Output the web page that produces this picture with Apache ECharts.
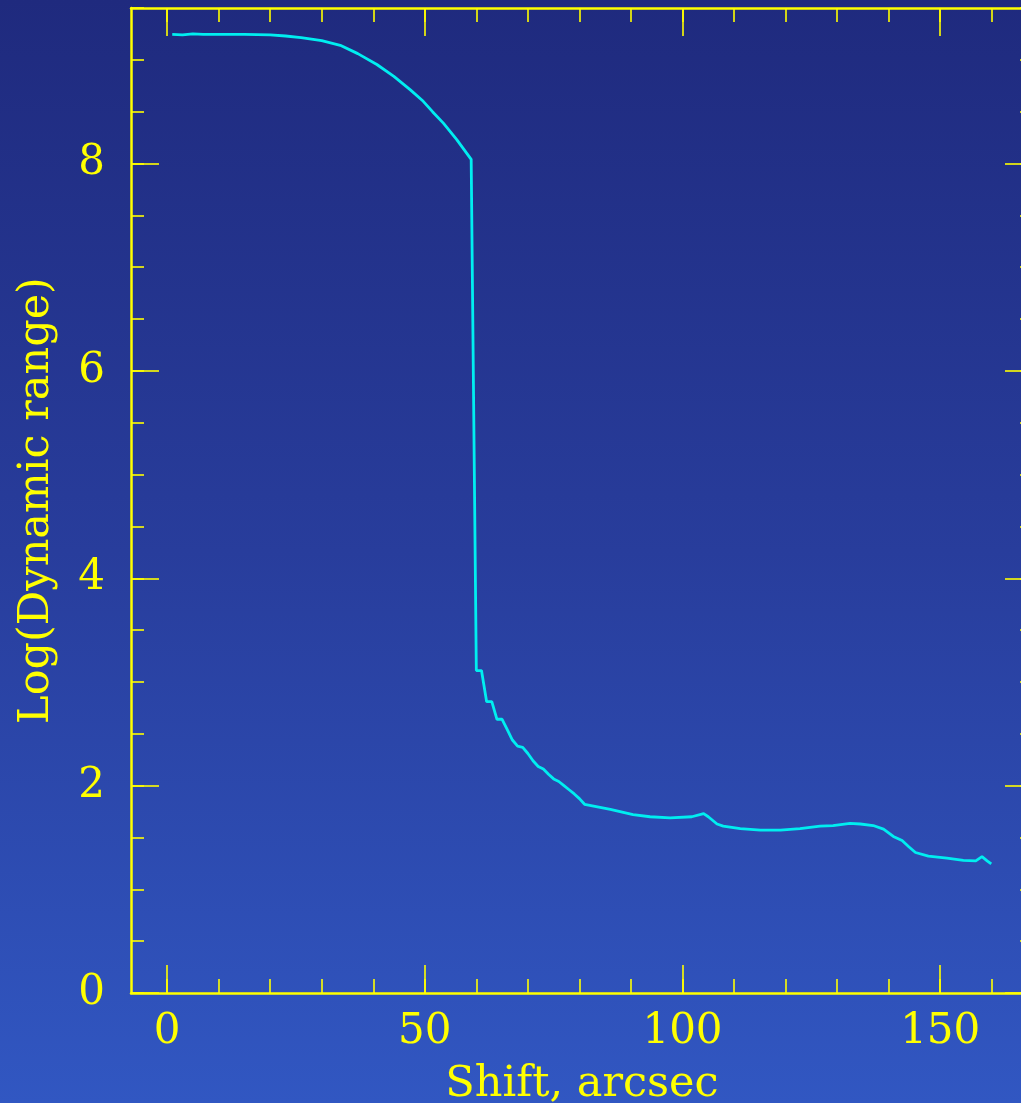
<!DOCTYPE html>
<html>
<head>
<meta charset="utf-8">
<script src="https://cdn.jsdelivr.net/npm/echarts@6/dist/echarts.min.js"></script>
<style>
  html, body { margin: 0; padding: 0; }
  #chart {
    width: 1021px;
    height: 1103px;
    background: linear-gradient(to bottom, #1f2a7e 0%, #283d9c 50%, #3157c2 100%);
  }
</style>
</head>
<body>
<div id="chart"></div>
<script>
// values
var shift = [1, 3, 5, 7, 10, 15, 20, 23, 26, 30, 33.6, 37, 40.7, 44, 47.2, 49.7, 51.5, 53.6, 56.2, 59,
  60, 61, 62, 63, 64, 65, 66, 67, 68, 69, 70, 71, 72, 73, 74, 75, 76, 77, 78, 79, 80, 81,
  86, 90.4, 93.7, 97.6, 101.8, 104.1, 105, 106.7, 107.9, 111.2, 115.1, 119, 122.8, 126.7, 129.2,
  132.5, 134.5, 137, 139, 140.9, 142.6, 143.9, 145.2, 147.7, 151.3, 154.5, 156.9, 158.1, 159.1, 159.9];
var logRange = [9.245, 9.24, 9.25, 9.245, 9.245, 9.245, 9.24, 9.23, 9.215, 9.185, 9.14, 9.06, 8.955, 8.84, 8.71, 8.60, 8.50, 8.39, 8.23, 8.04,
  3.11, 3.11, 2.81, 2.81, 2.64, 2.64, 2.54, 2.44, 2.38, 2.37, 2.31, 2.24, 2.185, 2.16, 2.11, 2.065, 2.04, 2.0, 1.96, 1.92, 1.875, 1.82,
  1.77, 1.72, 1.70, 1.69, 1.70, 1.73, 1.70, 1.63, 1.61, 1.585, 1.57, 1.57, 1.585, 1.61, 1.615,
  1.635, 1.63, 1.615, 1.58, 1.51, 1.47, 1.41, 1.355, 1.32, 1.30, 1.28, 1.275, 1.315, 1.275, 1.245];

var xMajor = [0, 50, 100, 150];
var xMinor = [0, 10, 20, 30, 40, 50, 60, 70, 80, 90, 100, 110, 120, 130, 140, 150, 160];
var yMajor = [0, 2, 4, 6, 8];
var yMinor = [0, 0.5, 1, 1.5, 2, 2.5, 3, 3.5, 4, 4.5, 5, 5.5, 6, 6.5, 7, 7.5, 8, 8.5, 9, 9.5];

var yellow = '#ffff00';
var font = 'DejaVu Serif';

function xAxis(pos, ticks, len, withLine, withLabels) {
  return {
    type: 'value', position: pos, min: -7, max: 168,
    axisLine: { show: withLine, onZero: false, lineStyle: { color: yellow, width: 2.5 } },
    axisTick: { show: true, inside: true, length: len, customValues: ticks,
      lineStyle: { color: yellow, width: 1.6 } },
    axisLabel: { show: withLabels, customValues: xMajor, color: yellow,
      fontFamily: font, fontSize: 42, margin: 39, verticalAlign: 'middle' },
    splitLine: { show: false },
    name: withLabels ? 'Shift, arcsec' : '',
    nameLocation: 'middle', nameGap: 92,
    nameTextStyle: { color: yellow, fontFamily: font, fontSize: 43, verticalAlign: 'middle' }
  };
}

function yAxis(pos, ticks, len, withLine, withLabels) {
  return {
    type: 'value', position: pos, min: 0, max: 9.5,
    axisLine: { show: withLine, onZero: false, lineStyle: { color: yellow, width: 2.5 } },
    axisTick: { show: true, inside: true, length: len, customValues: ticks,
      lineStyle: { color: yellow, width: 1.6 } },
    axisLabel: { show: withLabels, customValues: yMajor, color: yellow,
      fontFamily: font, fontSize: 42, margin: 26 },
    splitLine: { show: false },
    name: withLabels ? 'Log(Dynamic range)' : '',
    nameLocation: 'middle', nameGap: 94,
    nameTextStyle: { color: yellow, fontFamily: font, fontSize: 43, verticalAlign: 'middle' }
  };
}

var dom = document.getElementById('chart');
var myChart = echarts.init(dom);
var points = shift.map(function (s, i) { return [s, logRange[i]]; });

var option = {
  backgroundColor: 'transparent',
  animation: false,
  grid: { left: 131, right: -12, top: 8, bottom: 110, outerBoundsMode: 'none', containLabel: false },
  xAxis: [
    xAxis('bottom', xMajor, 28, true, true),
    xAxis('bottom', xMinor, 14, false, false),
    xAxis('top', xMajor, 28, true, false),
    xAxis('top', xMinor, 14, false, false)
  ],
  yAxis: [
    yAxis('left', yMajor, 28, true, true),
    yAxis('left', yMinor, 13, false, false),
    yAxis('right', yMajor, 28, true, false),
    yAxis('right', yMinor, 13, false, false)
  ],
  series: [
    {
      type: 'line',
      data: points,
      xAxisIndex: 0,
      yAxisIndex: 0,
      showSymbol: false,
      lineStyle: { color: '#00eef0', width: 2.8 }
    }
  ]
};
myChart.setOption(option);
</script>
</body>
</html>
